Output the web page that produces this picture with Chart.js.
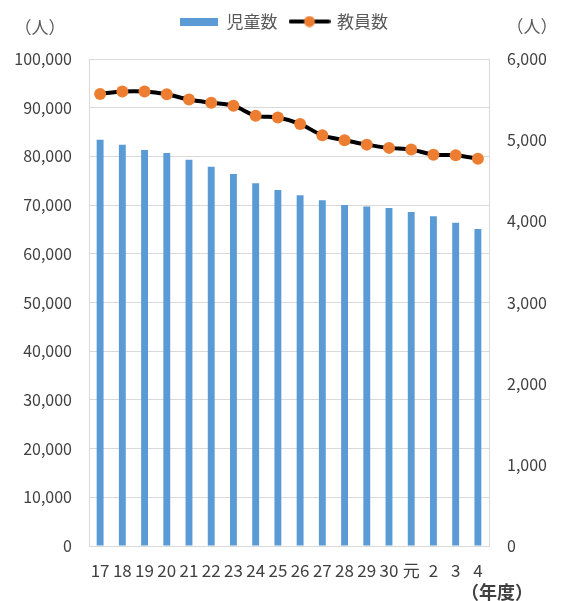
<!DOCTYPE html>
<html>
<head>
<meta charset="utf-8">
<script src="https://cdn.jsdelivr.net/npm/chart.js@4"></script>
<style>
  html, body { margin: 0; padding: 0; background: #fff; }
  #wrap { width: 568px; height: 601px; }
</style>
</head>
<body>
<div id="wrap"><canvas id="chart" width="568" height="601"></canvas></div>
<script>
const years = ['17', '18', '19', '20', '21', '22', '23', '24', '25', '26', '27', '28', '29', '30', '元', '2', '3', '4'];
const pupils = [83400, 82400, 81300, 80700, 79300, 77900, 76400, 74500, 73100, 72000, 71000, 70000, 69700, 69400, 68600, 67700, 66400, 65100];
const teachers = [5570, 5600, 5600, 5565, 5500, 5460, 5425, 5300, 5280, 5200, 5060, 5000, 4945, 4905, 4885, 4820, 4815, 4770];
const leftTicks = { min: 0, max: 100000, step: 10000 };
const rightTicks = { min: 0, max: 6000, step: 1000 };

const FONT = "'Noto Sans CJK JP', 'Noto Sans', sans-serif";
const BLUE = '#5B9BD5';
const ORANGE = '#ED7D31';
const GRID = '#D9D9D9';
const TEXT = '#404040';

// legend swatches
function barSwatch() {
  const c = document.createElement('canvas');
  c.width = 38; c.height = 8;
  const g = c.getContext('2d');
  g.fillStyle = BLUE;
  g.fillRect(0, 0, 38, 8);
  return c;
}

function lineSwatch() {
  const c = document.createElement('canvas');
  c.width = 42; c.height = 12;
  const g = c.getContext('2d');
  g.strokeStyle = '#000';
  g.lineWidth = 4;
  g.lineCap = 'round';
  g.beginPath(); g.moveTo(2, 6); g.lineTo(40, 6); g.stroke();
  g.fillStyle = ORANGE;
  g.beginPath(); g.arc(21, 6, 5.5, 0, Math.PI * 2); g.fill();
  return c;
}

const legendHeight = {
  id: 'legendHeight',
  beforeInit(chart) {
    const fit = chart.legend.fit;
    chart.legend.fit = function () {
      fit.call(this);
      this.height = 59;
    };
  }
};

const unitLabels = {
  id: 'unitLabels',
  afterDraw(chart) {
    const ctx = chart.ctx;
    ctx.save();
    ctx.textAlign = 'center';
    ctx.textBaseline = 'middle';
    ctx.fillStyle = '#595959';
    ctx.font = '17px ' + FONT;
    ctx.fillText('（人）', 40, 28);
    ctx.fillText('（人）', 532, 27);
    ctx.fillStyle = TEXT;
    ctx.font = 'bold 18px ' + FONT;
    ctx.fillText('（年度）', 497, 592);
    ctx.restore();
  }
};

new Chart(document.getElementById('chart'), {
  type: 'bar',
  data: {
    labels: years,
    datasets: [
      {
        label: '児童数',
        data: pupils,
        backgroundColor: BLUE,
        barPercentage: 0.31,
        categoryPercentage: 1,
        yAxisID: 'y',
        order: 2
      },
      {
        type: 'line',
        label: '教員数',
        data: teachers,
        borderColor: '#000',
        borderWidth: 4,
        tension: 0.3,
        pointRadius: 6,
        pointBackgroundColor: ORANGE,
        pointBorderColor: ORANGE,
        pointBorderWidth: 0,
        yAxisID: 'y1',
        order: 1
      }
    ]
  },
  options: {
    responsive: false,
    animation: false,
    layout: { padding: 0 },
    plugins: {
      tooltip: { enabled: false },
      legend: {
        position: 'top',
        labels: {
          usePointStyle: true,
          pointStyleWidth: 38,
          padding: 13,
          color: '#595959',
          font: { family: FONT, size: 17 },
          generateLabels: (chart) => [
            { text: '児童数', pointStyle: barSwatch(), datasetIndex: 0, fontColor: '#595959', lineWidth: 0 },
            { text: '教員数', pointStyle: lineSwatch(), datasetIndex: 1, fontColor: '#595959', lineWidth: 0 }
          ]
        }
      }
    },
    scales: {
      x: {
        grid: { display: false, drawTicks: false },
        border: { color: GRID },
        ticks: { color: TEXT, font: { family: FONT, size: 17 }, padding: 14, maxRotation: 0, autoSkip: false },
        afterFit: (s) => { s.height = 55; }
      },
      y: {
        position: 'left',
        min: leftTicks.min,
        max: leftTicks.max,
        grid: { color: GRID, drawTicks: false },
        border: { color: GRID },
        ticks: {
          stepSize: leftTicks.step,
          color: TEXT,
          padding: 17,
          font: { family: FONT, size: 16 },
          callback: (v) => v.toLocaleString('en-US')
        },
        afterFit: (s) => { s.width = 89; }
      },
      y1: {
        position: 'right',
        min: rightTicks.min,
        max: rightTicks.max,
        grid: { display: false, drawTicks: false },
        border: { color: GRID },
        ticks: {
          stepSize: rightTicks.step,
          color: TEXT,
          padding: 18,
          font: { family: FONT, size: 16 },
          callback: (v) => v.toLocaleString('en-US')
        },
        afterFit: (s) => { s.width = 79; }
      }
    }
  },
  plugins: [legendHeight, unitLabels]
});
</script>
</body>
</html>
